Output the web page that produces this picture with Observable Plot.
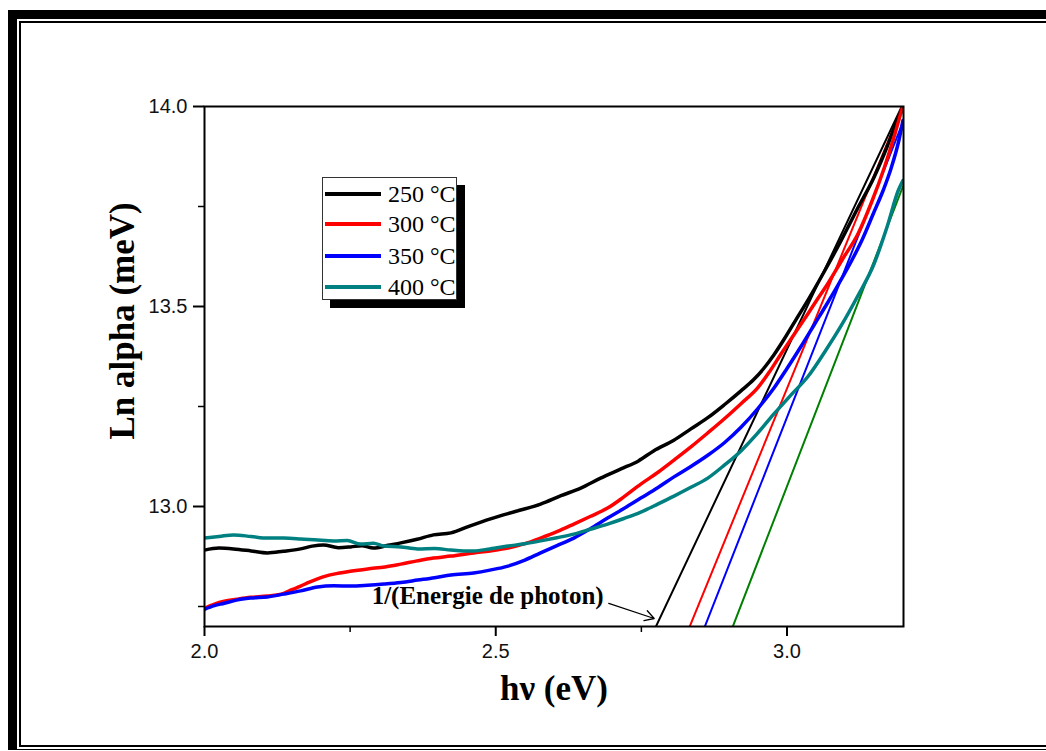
<!DOCTYPE html>
<html><head><meta charset="utf-8">
<script src="https://cdn.jsdelivr.net/npm/d3@7"></script>
<script src="https://cdn.jsdelivr.net/npm/@observablehq/plot@0.6"></script>
<style>
html,body{margin:0;padding:0;background:#fff;overflow:hidden;}
#wrap{position:relative;width:1046px;height:751px;overflow:hidden;}
#chart{position:absolute;left:0;top:0;}
.outer{position:absolute;left:8px;top:10px;width:1200px;height:740px;border-left:9px solid #000;border-top:9px solid #000;border-bottom:1px solid #000;box-sizing:border-box;}
.inner{position:absolute;left:19px;top:21px;width:1200px;height:726px;border-left:2px solid #000;border-top:2px solid #000;border-bottom:2px solid #000;box-sizing:border-box;}
#legend{position:absolute;left:322px;top:177px;width:135px;height:123px;border:1px solid #333;background:#fff;box-shadow:8px 8px 0 #000;box-sizing:border-box;font-family:"Liberation Serif",serif;font-size:24px;}
.item{position:absolute;left:2px;height:30px;display:flex;align-items:center;}
.swatch{width:56px;height:4px;margin-right:7px;}
</style></head>
<body><div id="wrap"><div id="chart"></div><div class="outer"></div><div class="inner"></div><div id="legend"></div></div>
<script>
// ---- data ----
const seriesNames = ["250 °C", "300 °C", "350 °C", "400 °C"];
const curveColors = ["#000000", "#ff0000", "#0000ff", "#008080"];
const tangentColors = ["#000000", "#ff0000", "#0000ff", "#008000"];

const hv250 = [2.000,2.025,2.050,2.080,2.108,2.135,2.165,2.185,2.204,2.230,2.251,2.270,2.290,2.315,2.337,2.365,2.393,2.423,2.455,2.491,2.535,2.577,2.612,2.646,2.680,2.715,2.745,2.771,2.805,2.835,2.864,2.893,2.921,2.942,2.960,2.978,2.995,3.015,3.036,3.065,3.093,3.120,3.149,3.172,3.191,3.199];
const ln250 = [12.891,12.896,12.894,12.889,12.884,12.888,12.894,12.901,12.904,12.897,12.899,12.902,12.896,12.903,12.909,12.918,12.929,12.934,12.951,12.969,12.988,13.006,13.027,13.046,13.071,13.094,13.114,13.139,13.165,13.194,13.222,13.255,13.289,13.316,13.345,13.380,13.418,13.466,13.516,13.590,13.665,13.742,13.822,13.900,13.972,13.995];

const hv300 = [2.000,2.017,2.034,2.055,2.079,2.108,2.136,2.150,2.165,2.180,2.194,2.208,2.222,2.250,2.280,2.310,2.337,2.365,2.393,2.423,2.462,2.490,2.521,2.550,2.577,2.605,2.634,2.662,2.692,2.720,2.749,2.778,2.806,2.835,2.864,2.893,2.921,2.950,2.970,2.990,3.013,3.036,3.053,3.070,3.096,3.122,3.145,3.167,3.185,3.196,3.200];
const ln300 = [12.746,12.756,12.763,12.768,12.773,12.776,12.783,12.792,12.801,12.811,12.819,12.826,12.831,12.838,12.844,12.849,12.856,12.864,12.871,12.876,12.884,12.889,12.896,12.907,12.921,12.937,12.956,12.975,12.996,13.024,13.056,13.085,13.116,13.149,13.184,13.220,13.257,13.297,13.337,13.382,13.432,13.482,13.520,13.557,13.620,13.682,13.760,13.847,13.930,13.985,14.000];

const hv350 = [2.000,2.017,2.034,2.055,2.079,2.108,2.136,2.165,2.194,2.222,2.251,2.280,2.308,2.337,2.366,2.395,2.423,2.462,2.490,2.521,2.550,2.577,2.605,2.634,2.662,2.692,2.720,2.749,2.778,2.806,2.835,2.864,2.893,2.921,2.950,2.978,3.000,3.024,3.047,3.070,3.090,3.110,3.130,3.149,3.165,3.179,3.192,3.199];
const ln350 = [12.743,12.752,12.758,12.766,12.771,12.774,12.781,12.789,12.799,12.802,12.801,12.803,12.806,12.810,12.816,12.822,12.829,12.834,12.841,12.851,12.866,12.884,12.902,12.921,12.944,12.971,12.995,13.021,13.047,13.074,13.100,13.128,13.160,13.198,13.245,13.297,13.345,13.400,13.455,13.510,13.560,13.612,13.670,13.735,13.790,13.847,13.915,13.965];

const hv400 = [2.000,2.025,2.050,2.080,2.108,2.136,2.165,2.194,2.222,2.245,2.268,2.290,2.308,2.337,2.366,2.395,2.423,2.445,2.462,2.490,2.521,2.550,2.577,2.605,2.634,2.662,2.692,2.720,2.749,2.778,2.806,2.835,2.864,2.893,2.921,2.950,2.978,3.007,3.036,3.065,3.093,3.121,3.149,3.172,3.191,3.199];
const ln400 = [12.921,12.925,12.929,12.925,12.921,12.921,12.919,12.916,12.914,12.915,12.906,12.908,12.901,12.899,12.894,12.895,12.891,12.889,12.889,12.894,12.901,12.907,12.914,12.922,12.931,12.943,12.956,12.970,12.986,13.006,13.026,13.048,13.071,13.104,13.139,13.184,13.232,13.279,13.325,13.387,13.452,13.525,13.605,13.700,13.790,13.815];

const tangentHv = [[2.775,3.197],[2.833,3.198],[2.859,3.200],[2.907,3.199]];
const tangentLn = [[12.70,14.00],[12.70,14.00],[12.70,13.965],[12.70,13.80]];

const xTicks = [2.0, 2.5, 3.0];
const xMinorTicks = [2.25, 2.75];
const yTicks = [13.0, 13.5, 14.0];
const yMinorTicks = [12.75, 13.25, 13.75];

const xLabel = "hν (eV)";
const yLabel = "Ln alpha (meV)";
const annotText = ["1/(Energie de photon)"];
const annotHv = [2.287];
const annotLn = [12.7765];
const arrowHv = [[2.694, 2.772]];
const arrowLn = [[12.758, 12.720]];

// ---- build ----
const curveX = [hv250, hv300, hv350, hv400];
const curveY = [ln250, ln300, ln350, ln400];
const curves = seriesNames.map((s, i) => curveX[i].map((x, j) => ({series: s, x, y: curveY[i][j]})));
const tangents = seriesNames.map((s, i) => tangentHv[i].map((x, j) => ({series: s, x, y: tangentLn[i][j]})));

const serif = "Liberation Serif, Times New Roman, serif";
const sans = "Liberation Sans, Arial, sans-serif";

const marks = [];
tangents.forEach((t, i) => marks.push(Plot.line(t, {x: "x", y: "y", stroke: tangentColors[i], strokeWidth: 2, clip: true})));
curves.forEach((c, i) => marks.push(Plot.line(c, {x: "x", y: "y", stroke: curveColors[i], strokeWidth: 3.5, curve: "monotone-x", clip: true})));

marks.push(
  Plot.frame({stroke: "#000", strokeWidth: 2}),
  Plot.axisX({ticks: xTicks, tickSize: 10, tickPadding: 7, tickFormat: d3.format(".1f"), fontSize: 20, fontFamily: sans, strokeWidth: 2, label: null, fill: "#111"}),
  Plot.axisX({ticks: xMinorTicks, tickSize: 6, tickFormat: () => "", strokeWidth: 1.5, label: null}),
  Plot.axisY({ticks: yTicks, tickSize: 11, tickPadding: 6, tickFormat: d3.format(".1f"), fontSize: 20, fontFamily: sans, strokeWidth: 2, label: null, fill: "#111"}),
  Plot.axisY({ticks: yMinorTicks, tickSize: 6, tickFormat: () => "", strokeWidth: 1.5, label: null}),
  Plot.text([xLabel], {frameAnchor: "bottom", dy: 62, text: d => d, fontFamily: serif, fontWeight: "bold", fontSize: 35, lineAnchor: "middle"}),
  Plot.text([yLabel], {x: 2.0, y: 13.464, dx: -82, rotate: -90, text: d => d, fontFamily: serif, fontWeight: "bold", fontSize: 35, lineAnchor: "middle", textAnchor: "middle"}),
  Plot.text(annotText, {x: (d, i) => annotHv[i], y: (d, i) => annotLn[i], text: d => d, textAnchor: "start", lineAnchor: "middle", fontFamily: serif, fontWeight: "bold", fontSize: 25}),
  Plot.arrow(arrowHv, {x1: (d) => d[0], x2: (d) => d[1], y1: (d, i) => arrowLn[i][0], y2: (d, i) => arrowLn[i][1], stroke: "#000", strokeWidth: 1.3, headLength: 12})
);

const chart = Plot.plot({
  width: 1046, height: 751,
  marginLeft: 204, marginRight: 143, marginTop: 106, marginBottom: 125,
  x: {domain: [2.0, 3.2]},
  y: {domain: [12.7, 14.0]},
  style: {background: "transparent"},
  marks
});
document.getElementById("chart").appendChild(chart);

// legend
const legend = document.getElementById("legend");
const itemTops = [1, 31, 63, 94];
seriesNames.forEach((s, i) => {
  const item = document.createElement("div");
  item.className = "item";
  item.style.top = itemTops[i] + "px";
  const sw = document.createElement("div");
  sw.className = "swatch";
  sw.style.background = curveColors[i];
  const lab = document.createElement("span");
  lab.textContent = s;
  item.appendChild(sw); item.appendChild(lab);
  legend.appendChild(item);
});
</script></body></html>
